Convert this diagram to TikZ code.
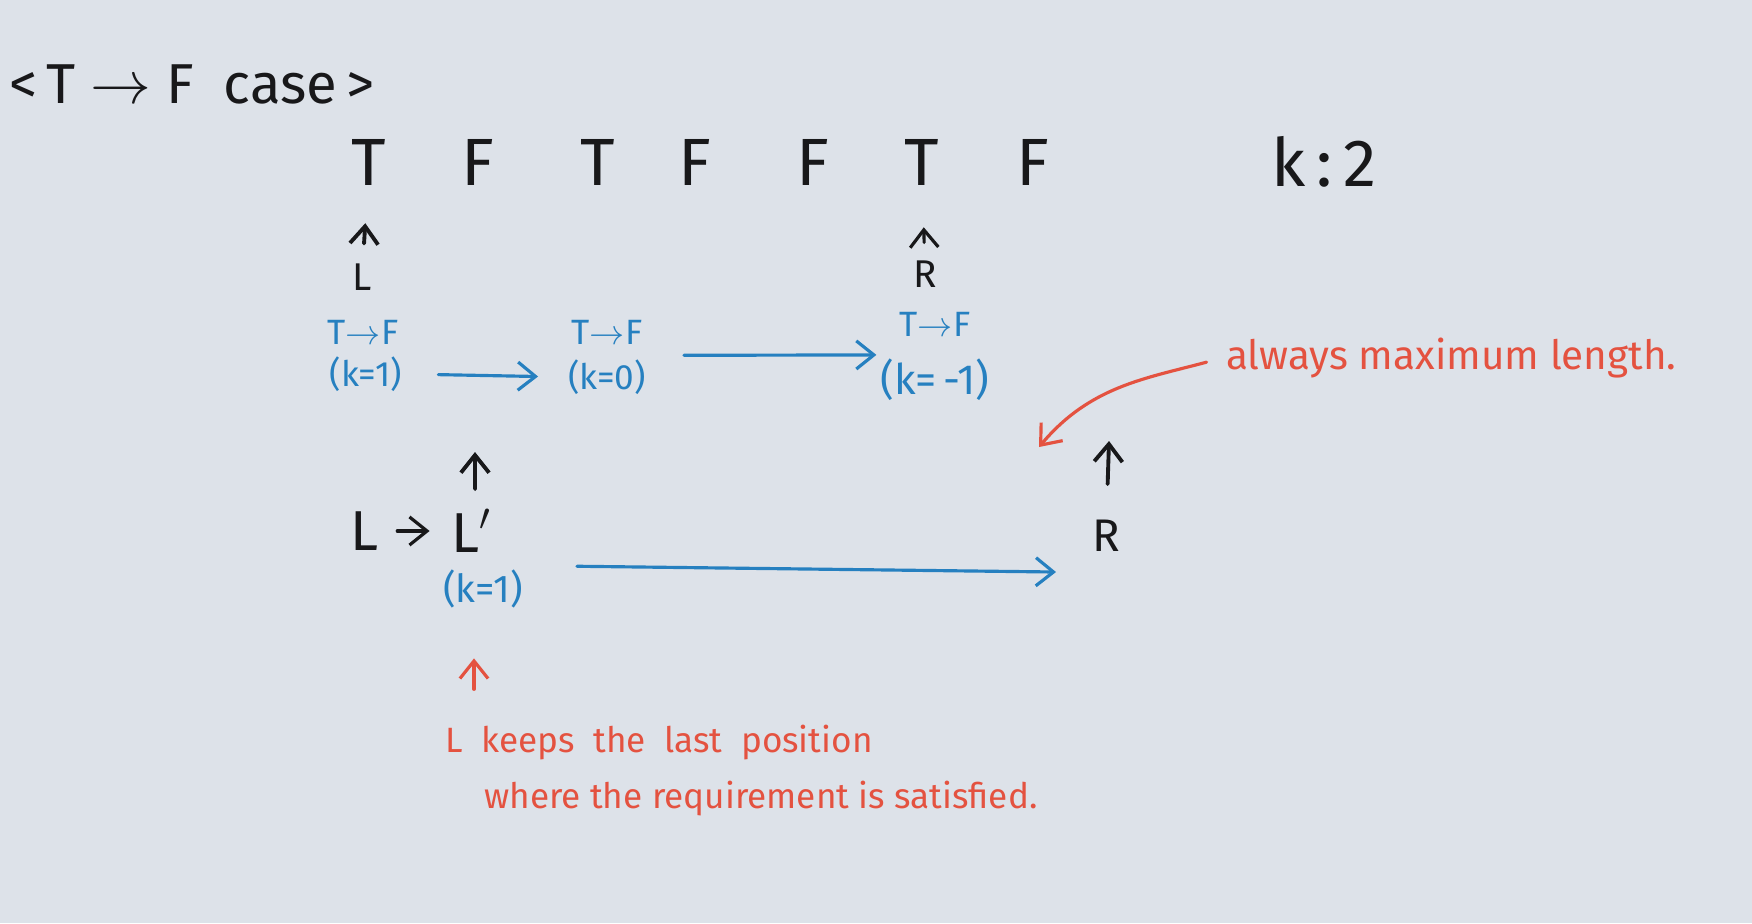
\documentclass[tikz,border=0pt]{standalone}
\usepackage{fontspec}
\setmainfont{Fira Sans}
\usetikzlibrary{arrows.meta}
\usetikzlibrary{positioning}
\definecolor{board}{RGB}{221,226,233}
\definecolor{ink}{RGB}{24,24,26}
\definecolor{blueink}{RGB}{38,128,192}
\definecolor{redink}{RGB}{228,82,64}
\tikzset{
  letter/.style={font=\fontsize{19}{21}\selectfont,text=ink,inner sep=1pt},
  small/.style={font=\fontsize{11}{13}\selectfont,text=ink,inner sep=1pt},
  bluelbl/.style={font=\fontsize{10}{12}\selectfont,text=blueink,inner sep=1pt},
  rednote/.style={font=\fontsize{10}{12}\selectfont,text=redink,inner sep=1pt},
  blackarrow/.style={draw=ink,line width=1.1pt,->},
  bluearrow/.style={draw=blueink,line width=0.9pt,->},
  redarrow/.style={draw=redink,line width=0.9pt,->}
}
\begin{document}
\begin{tikzpicture}[line cap=round,line join=round,>={Straight Barb[length=5pt,width=8pt]},x=0.01cm,y=-0.01cm]
\fill[board] (0,0) rectangle (1752,923);
\useasboundingbox (0,0) rectangle (1752,923);
% title and the array
\node[letter,font=\fontsize{16}{18}\selectfont] (title) at (192,84) {<\,T $\to$ F\ \ case\,>};
\foreach \name/\ltr/\xx in {t1/T/369,f1/F/478,t2/T/598,f2/F/695,f3/F/813,t3/T/922,f4/F/1033}
  \node[letter] (\name) at (\xx,162) {\ltr};
\node[letter] (kval) at (1324,162) {k\,:\,2};
% pointers
\node[small] (lptr) at (362,277) {L};
\node[small] (rptr) at (925,274) {R};
\draw[blackarrow,shorten <=1.6mm,shorten >=3.4mm] (lptr) -- (t1);
\draw[blackarrow,line width=0.9pt,shorten <=1.4mm,shorten >=3.8mm] (rptr) -- (t3);
% blue steps
\node[bluelbl] (tf1) at (363,332) {T$\to$F};
\node[bluelbl] (kk1) at (366,374) {(k=1)};
\node[bluelbl] (tf2) at (607,332) {T$\to$F};
\node[bluelbl] (kk2) at (607,377) {(k=0)};
\node[bluelbl] (tf3) at (935,324) {T$\to$F};
\node[bluelbl,font=\fontsize{12}{14}\selectfont] (kk3) at (935,380) {(k=\,-1)};
\draw[bluearrow,shorten <=3.2mm,shorten >=2.6mm] (kk1.east) -- (kk2.west);
\draw[bluearrow,shorten <=3.4mm,shorten >=0mm] (kk2.north east) -- (kk3.north west);
% moving L
\node[letter,font=\fontsize{16}{18}\selectfont] (lold) at (365,531) {L};
\node[letter,font=\fontsize{16}{18}\selectfont] (lnew) at (472,531) {L$'$};
\draw[blackarrow,line width=0.9pt,shorten <=1.4mm,shorten >=1.8mm] (lold) -- (lnew);
\coordinate (lup) at (475,452);
\draw[blackarrow,shorten <=1.6mm] ([xshift=0.3mm]lnew.north) -- (lup);
\node[bluelbl,font=\fontsize{11}{13}\selectfont] (kkl) at (483,589) {(k=1)};
\node[small,font=\fontsize{13}{15}\selectfont] (rnew) at (1106,536) {R};
\coordinate (rend) at (1056,572);
\coordinate (rup) at (1109,441);
\draw[bluearrow,shorten <=5mm] (kkl.north east) -- (rend);
\draw[blackarrow,shorten <=3.2mm] (rnew) -- (rup);
% red remarks
\node[rednote,font=\fontsize{11.5}{14}\selectfont,anchor=west] (maxlen) at (1222,358) {always maximum length.};
\coordinate (redend) at (1039,447);
\draw[redarrow,shorten <=1.6mm] (maxlen.west) to[out=195,in=50] (redend);
\node[rednote,anchor=west] (note1) at (441,743) {L\ \ keeps\ \ the\ \ last\ \ position};
\node[rednote,anchor=west] (note2) at (480,799) {where the\ requirement\ is\ satisfied.};
\draw[redarrow,shorten <=3.2mm,shorten >=4.6mm] ([xshift=-0.9mm]kkl |- note1.north) -- ([xshift=-0.9mm]kkl.south);
\end{tikzpicture}
\end{document}
